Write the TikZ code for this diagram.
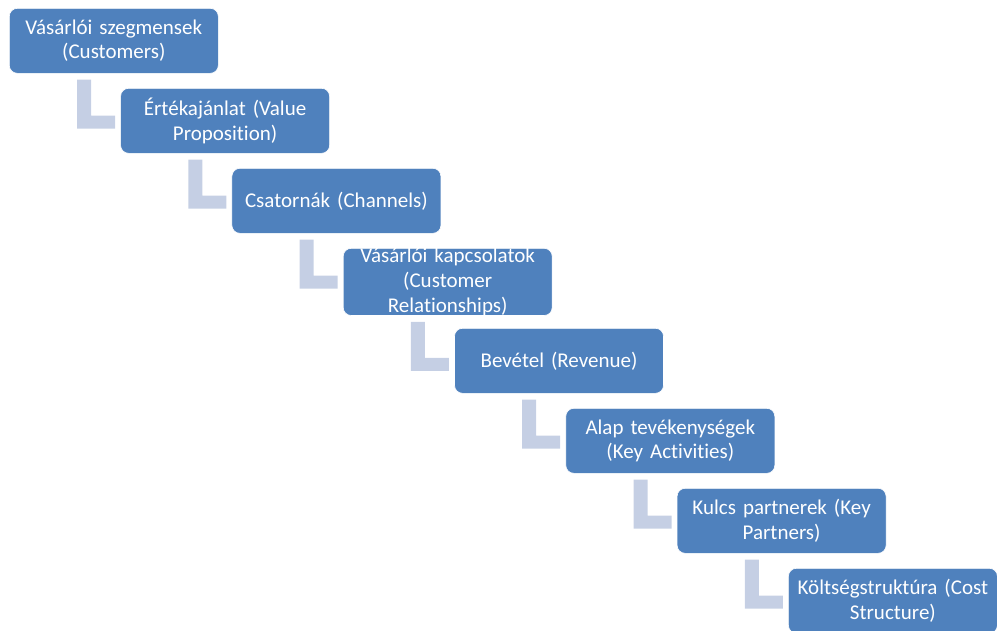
\documentclass[tikz,border=0pt]{standalone}
\usepackage{fontspec}
\setmainfont[Ligatures={NoCommon}]{Carlito}
\usetikzlibrary{calc}
\definecolor{boxblue}{HTML}{4F81BD}
\definecolor{linkgrey}{HTML}{C5CFE4}
\tikzset{
  stepbox/.style={draw=white, line width=0.6pt, fill=boxblue, rounded corners=8pt,
    minimum width=209pt, minimum height=65pt, inner sep=0pt, anchor=north west,
    text=white, align=center, text width=205pt,
    font=\fontsize{21}{24.6}\selectfont},
  linkbar/.style={fill=linkgrey, draw=none}
}
\begin{document}
\begin{tikzpicture}[x=1pt, y=-1pt]
  \useasboundingbox (0,0) rectangle (997,630);
  % staircase of steps
  \node[stepbox] (b1) at (9,8) {Vásárlói szegmensek\\(Customers)};
  \node[stepbox] (b2) at (120.3,88) {Értékajánlat (Value\\Proposition)};
  \node[stepbox] (b3) at (231.6,168) {Csatornák (Channels)};
  \node[stepbox] (b4) at (342.9,248) {Vásárlói kapcsolatok\\(Customer\\Relationships)};
  \node[stepbox] (b5) at (454.2,328) {Bevétel (Revenue)};
  \node[stepbox] (b6) at (565.5,408) {Alap tevékenységek\\(Key Activities)};
  \node[stepbox] (b7) at (676.8,488) {Kulcs partnerek (Key\\Partners)};
  \node[stepbox] (b8) at (788.1,568) {Költségstruktúra (Cost\\Structure)};
  % L-shaped links hanging below each step
  \foreach \a in {1,...,7}{
    \fill[linkbar] ($(b\a.south west)+(68,6)$) -- ($(b\a.south west)+(82,6)$)
      -- ($(b\a.south west)+(82,42)$) -- ($(b\a.south west)+(106,42)$)
      -- ($(b\a.south west)+(106,55)$) -- ($(b\a.south west)+(68,55)$) -- cycle;
  }
\end{tikzpicture}
\end{document}
